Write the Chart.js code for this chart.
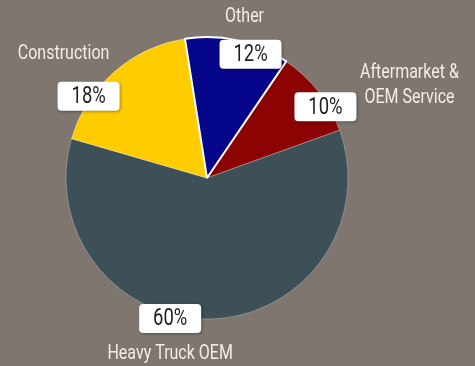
<!DOCTYPE html>
<html>
<head>
<meta charset="utf-8">
<script src="https://cdn.jsdelivr.net/npm/chart.js@4.4.0/dist/chart.umd.min.js"></script>
<style>
  html, body { margin: 0; padding: 0; background: #7f776f; }
  #wrap { width: 475px; height: 366px; position: relative; }
</style>
</head>
<body>
<div id="wrap"><canvas id="pie"></canvas></div>
<script>
// Revenue mix by end market (clockwise, starting with Aftermarket so "Other" is drawn last)
const segments = ['Aftermarket & OEM Service', 'Heavy Truck OEM', 'Construction', 'Other'];
const shares = [10, 60, 18, 12];
const sliceColors = ['#8b0303', '#3d4f57', '#ffcc00', '#06068a'];
const nameLines = [['Aftermarket &', 'OEM Service'], ['Heavy Truck OEM'], ['Construction'], ['Other']];

// label placement: box along slice mid-angle (nudge deg, radius factor), name offset from box
const boxNudge = [6.8, 16.5, -14, 6.8];
const boxDist = [0.98, 1.03, 1.02, 0.93];
const nameOffset = [[84, -34], [0, 36], [-25, -42], [-6, -37]];

const NAME_FONT = "20px Roboto, sans-serif";
const PCT_FONT = "23px Roboto, sans-serif";
const SQUEEZE = 0.8; // narrow the glyphs to a condensed look

function roundRect(ctx, x, y, w, h, r) {
  ctx.beginPath();
  ctx.moveTo(x + r, y);
  ctx.lineTo(x + w - r, y);
  ctx.quadraticCurveTo(x + w, y, x + w, y + r);
  ctx.lineTo(x + w, y + h - r);
  ctx.quadraticCurveTo(x + w, y + h, x + w - r, y + h);
  ctx.lineTo(x + r, y + h);
  ctx.quadraticCurveTo(x, y + h, x, y + h - r);
  ctx.lineTo(x, y + r);
  ctx.quadraticCurveTo(x, y, x + r, y);
  ctx.closePath();
}

function narrowText(ctx, text, x, y) {
  ctx.save();
  ctx.translate(x, y);
  ctx.scale(SQUEEZE, 1);
  ctx.fillText(text, 0, 0);
  ctx.restore();
}

const sliceLabels = {
  id: 'sliceLabels',
  afterDatasetsDraw(chart) {
    const ctx = chart.ctx;
    const arcs = chart.getDatasetMeta(0).data;
    arcs.forEach((arc, i) => {
      const p = arc.getProps(['x', 'y', 'startAngle', 'endAngle', 'outerRadius'], true);
      const mid = (p.startAngle + p.endAngle) / 2 + boxNudge[i] * Math.PI / 180;
      const r = p.outerRadius * boxDist[i];
      const bx = p.x + Math.cos(mid) * r;
      const by = p.y + Math.sin(mid) * r;

      // percentage box
      const w = 62, h = 29;
      ctx.save();
      ctx.shadowColor = 'rgba(0,0,0,0.35)';
      ctx.shadowBlur = 3;
      ctx.shadowOffsetX = 1;
      ctx.shadowOffsetY = 1;
      ctx.fillStyle = '#ffffff';
      roundRect(ctx, bx - w / 2, by - h / 2, w, h, 4);
      ctx.fill();
      ctx.restore();

      ctx.save();
      ctx.fillStyle = '#1e1e1e';
      ctx.font = PCT_FONT;
      ctx.textAlign = 'center';
      ctx.textBaseline = 'middle';
      narrowText(ctx, shares[i] + '%', bx, by + 1);

      // category name
      ctx.fillStyle = '#f1eeea';
      ctx.font = NAME_FONT;
      nameLines[i].forEach((line, k) => {
        narrowText(ctx, line, bx + nameOffset[i][0], by + nameOffset[i][1] + k * 25);
      });
      ctx.restore();
    });
  }
};

new Chart(document.getElementById('pie'), {
  type: 'pie',
  data: {
    labels: segments,
    datasets: [{
      data: shares,
      backgroundColor: sliceColors,
      borderColor: ['rgba(255,200,200,0.45)', 'rgba(200,200,200,0.4)', 'rgba(255,240,200,0.5)', '#ffffff'],
      borderWidth: [1, 1, 1, 2]
    }]
  },
  options: {
    responsive: true,
    maintainAspectRatio: false,
    animation: false,
    rotation: 34.2,
    layout: { padding: { top: 36, bottom: 46, left: 63, right: 124 } },
    plugins: {
      legend: { display: false },
      tooltip: { enabled: false }
    }
  },
  plugins: [sliceLabels]
});
</script>
</body>
</html>
